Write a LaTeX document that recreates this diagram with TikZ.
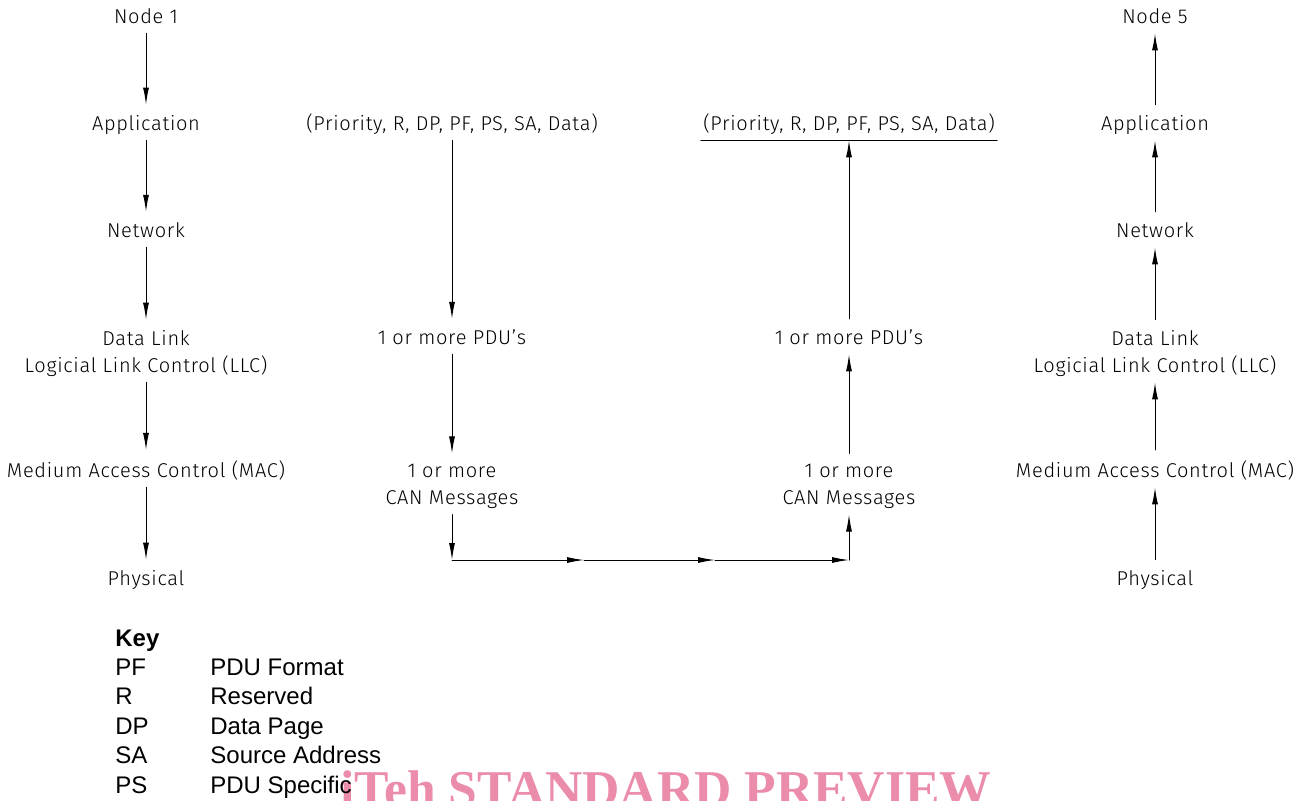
\documentclass[tikz,border=0pt]{standalone}
\usepackage{fontspec}
\setmainfont{Liberation Sans}
\newfontfamily\isofont{Fira Sans Light}[LetterSpace=3.5]
\newfontfamily\wmfont{Liberation Serif}
\usetikzlibrary{arrows.meta}
\definecolor{wmpink}{RGB}{235,140,170}

\begin{document}
\begin{tikzpicture}[x=0.5pt,y=-0.5pt,line cap=round,line join=round,>={Latex[length=8.5pt,width=3pt]},
    lay/.style={font=\isofont\fontsize{10}{13.5}\selectfont,align=center,inner xsep=1pt,inner ysep=5pt,text depth=0pt},
    arr/.style={->,line width=0.5pt},
    keytxt/.style={font=\fontsize{12}{14}\selectfont,anchor=base west,inner sep=0pt}]
    \useasboundingbox (0,0) rectangle (1301,800);
    % node 1 (sending side)
    \node[lay,anchor=base] (node1) at (146,23) {Node 1};
    \node[lay,anchor=base] (app1) at (146,130) {Application};
    \node[lay,anchor=base] (net1) at (146,237) {Network};
    \node[lay] (llc1) at (146,351) {Data Link\\Logicial Link Control (LLC)};
    \node[lay,anchor=base] (mac1) at (146,477) {Medium Access Control (MAC)};
    \node[lay,anchor=base] (phy1) at (146,585) {Physical};
    \draw[arr] (node1) -- (app1);
    \draw[arr] (app1) -- (net1);
    \draw[arr] (net1) -- (llc1);
    \draw[arr] (llc1) -- (mac1);
    \draw[arr] (mac1) -- (phy1);
    % transmitted
    \node[lay,anchor=base] (prio1) at (452,130) {(Priority, R, DP, PF, PS, SA, Data)};
    \node[lay,anchor=base] (pdu1) at (452,344) {1 or more PDU’s};
    \node[lay] (can1) at (452,484) {1 or more\\CAN Messages};
    \draw[arr] (prio1) -- (pdu1);
    \draw[arr] (pdu1) -- (can1);
    % bus
    \coordinate (bus1) at (452,560);
    \coordinate (busa) at (584,560);
    \coordinate (busb) at (715,560);
    \coordinate (bus2) at (849,560);
    \draw[arr] (can1) -- (bus1);
    \draw[arr] (bus1) -- (busa);
    \draw[arr] (busa) -- (busb);
    \draw[arr] (busb) -- (bus2);
    % received
    \node[lay] (can2) at (849,484) {1 or more\\CAN Messages};
    \node[lay,anchor=base] (pdu2) at (849,344) {1 or more PDU’s};
    \node[lay,anchor=base] (prio2) at (849,130) {(Priority, R, DP, PF, PS, SA, Data)};
    \draw[line width=0.5pt] (prio2.south west) -- (prio2.south east);
    \draw[arr] (bus2) -- (can2);
    \draw[arr] (can2) -- (pdu2);
    \draw[arr] (pdu2) -- (prio2);
    % node 5 (receiving side)
    \node[lay,anchor=base] (node5) at (1155,23) {Node 5};
    \node[lay,anchor=base] (app5) at (1155,130) {Application};
    \node[lay,anchor=base] (net5) at (1155,237) {Network};
    \node[lay] (llc5) at (1155,351) {Data Link\\Logicial Link Control (LLC)};
    \node[lay,anchor=base] (mac5) at (1155,477) {Medium Access Control (MAC)};
    \node[lay,anchor=base] (phy5) at (1155,585) {Physical};
    \draw[arr] (phy5) -- (mac5);
    \draw[arr] (mac5) -- (llc5);
    \draw[arr] (llc5) -- (net5);
    \draw[arr] (net5) -- (app5);
    \draw[arr] (app5) -- (node5);
    % watermark, under the key
    \node[anchor=base west,inner sep=0pt,text=wmpink,font=\wmfont\bfseries\fontsize{25.8}{28}\selectfont] (wm) at (340,806) {iTeh STANDARD PREVIEW};
    % key
    \node[keytxt,font=\bfseries\fontsize{12}{14}\selectfont] (key) at (115,646) {Key};
    \foreach \ab/\txt [count=\i] in {PF/PDU Format,R/Reserved,DP/Data Page,SA/Source Address,PS/PDU Specific} {
        \node[keytxt] (ab\i) at (115,{646+29.4*\i}) {\ab};
        \node[keytxt] (tx\i) at (210,{646+29.4*\i}) {\txt};
    }
\end{tikzpicture}
\end{document}
